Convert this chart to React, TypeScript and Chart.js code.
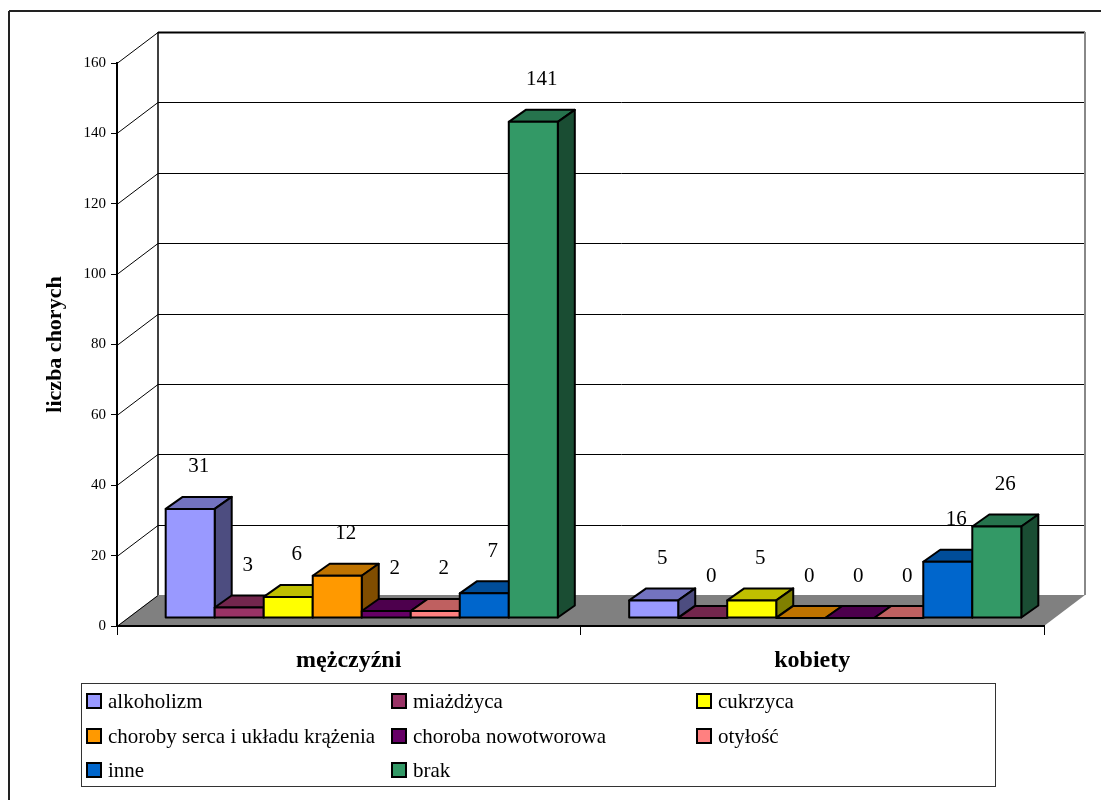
import { useEffect, useRef } from "react";
import { Chart, registerables } from "chart.js";

Chart.register(...registerables);

// ---- data ----
const groups = ["mężczyźni", "kobiety"];
const seriesNames = [
  "alkoholizm",
  "miażdżyca",
  "cukrzyca",
  "choroby serca i układu krążenia",
  "choroba nowotworowa",
  "otyłość",
  "inne",
  "brak",
];
const seriesColors = [
  "#9999FF",
  "#993366",
  "#FFFF00",
  "#FF9900",
  "#660066",
  "#FF8080",
  "#0066CC",
  "#339966",
];
const menValues = [31, 3, 6, 12, 2, 2, 7, 141];
const womenValues = [5, 0, 5, 0, 0, 0, 16, 26];
const yMin = 0;
const yMax = 160;
const yStep = 20;
const yTitle = "liczba chorych";

// ---- 3D look ----
const FONT = "'Liberation Serif', 'Times New Roman', serif";
const WALL_DX = 41; // depth of the box (back wall offset)
const WALL_DY = -31;
const ROW_DX = 13; // where the row of bars sits inside the depth
const ROW_DY = -8;
const BAR_DX = 17; // depth of a single bar
const BAR_DY = -12;

function shade(hex: string, f: number) {
  const n = parseInt(hex.slice(1), 16);
  const r = Math.round(((n >> 16) & 255) * f);
  const g = Math.round(((n >> 8) & 255) * f);
  const b = Math.round((n & 255) * f);
  return `rgb(${r},${g},${b})`;
}

function poly(ctx: CanvasRenderingContext2D, pts: number[][], fill: string) {
  ctx.beginPath();
  ctx.moveTo(pts[0][0], pts[0][1]);
  for (let i = 1; i < pts.length; i++) ctx.lineTo(pts[i][0], pts[i][1]);
  ctx.closePath();
  ctx.fillStyle = fill;
  ctx.fill();
  ctx.stroke();
}

function line(ctx: CanvasRenderingContext2D, x1: number, y1: number, x2: number, y2: number) {
  ctx.beginPath();
  ctx.moveTo(x1, y1);
  ctx.lineTo(x2, y2);
  ctx.stroke();
}

const box3d = {
  id: "box3d",
  beforeDraw(chart: any) {
    const ctx: CanvasRenderingContext2D = chart.ctx;
    const { left, right, bottom } = chart.chartArea;
    const ys = chart.scales.y;
    ctx.save();

    // outer frame
    ctx.strokeStyle = "#222";
    ctx.lineWidth = 2;
    line(ctx, 9, 11, 9, 800);
    line(ctx, 9, 11, 1101, 11);

    // floor
    ctx.beginPath();
    ctx.moveTo(left, bottom);
    ctx.lineTo(right, bottom);
    ctx.lineTo(right + WALL_DX, bottom + WALL_DY);
    ctx.lineTo(left + WALL_DX, bottom + WALL_DY);
    ctx.closePath();
    ctx.fillStyle = "#808080";
    ctx.fill();

    // grid on side and back walls
    ctx.strokeStyle = "#000";
    ctx.lineWidth = 1;
    for (const t of ys.ticks) {
      const py = Math.round(ys.getPixelForValue(t.value)) + 0.5;
      line(ctx, left, py, left + WALL_DX, py + WALL_DY);
      if (t.value > yMin) {
        ctx.lineWidth = t.value === yMax ? 2 : 1;
        line(ctx, left + WALL_DX, py + WALL_DY, right + WALL_DX, py + WALL_DY);
        ctx.lineWidth = 1;
      }
    }
    const pTop = ys.getPixelForValue(yMax);
    ctx.lineWidth = 1.5;
    line(ctx, left + WALL_DX, pTop + WALL_DY, left + WALL_DX, bottom + WALL_DY);
    ctx.strokeStyle = "#888";
    ctx.lineWidth = 2;
    line(ctx, right + WALL_DX, pTop + WALL_DY, right + WALL_DX, bottom + WALL_DY);

    // floor front edge
    ctx.strokeStyle = "#000";
    ctx.lineWidth = 2;
    line(ctx, left, bottom, right, bottom);
    ctx.restore();
  },
  afterDatasetsDraw(chart: any) {
    const ctx: CanvasRenderingContext2D = chart.ctx;
    ctx.save();
    ctx.strokeStyle = "#000";
    ctx.lineWidth = 2;
    ctx.lineJoin = "round";
    const labels: { x: number; y: number; v: number }[] = [];
    chart.data.datasets.forEach((ds: any, i: number) => {
      const meta = chart.getDatasetMeta(i);
      const base = seriesColors[i];
      meta.data.forEach((el: any, j: number) => {
        const p = el.getProps(["x", "y", "base", "width"], true);
        const L = p.x - p.width / 2 + ROW_DX;
        const R = p.x + p.width / 2 + ROW_DX;
        const T = p.y + ROW_DY;
        const B = p.base + ROW_DY;
        poly(
          ctx,
          [
            [L, T],
            [R, T],
            [R + BAR_DX, T + BAR_DY],
            [L + BAR_DX, T + BAR_DY],
          ],
          shade(base, 0.75)
        );
        if (B - T > 0.5) {
          poly(
            ctx,
            [
              [R, T],
              [R + BAR_DX, T + BAR_DY],
              [R + BAR_DX, B + BAR_DY],
              [R, B],
            ],
            shade(base, 0.5)
          );
          ctx.fillStyle = base;
          ctx.fillRect(L, T, R - L, B - T);
          ctx.strokeRect(L, T, R - L, B - T);
        }
        labels.push({ x: (L + R) / 2 + BAR_DX / 2, y: T + BAR_DY, v: ds.data[j] });
      });
    });
    ctx.fillStyle = "#000";
    ctx.font = `21px ${FONT}`;
    ctx.textAlign = "center";
    ctx.textBaseline = "middle";
    for (const l of labels) ctx.fillText(String(l.v), l.x, l.y - 30);
    ctx.restore();
  },
  afterDraw(chart: any) {
    const ctx: CanvasRenderingContext2D = chart.ctx;
    ctx.save();
    // legend box
    ctx.strokeStyle = "#333";
    ctx.lineWidth = 1;
    ctx.strokeRect(81.5, 683.5, 914, 103);
    const cols = [87, 392, 697];
    const rows = [701, 736, 770];
    ctx.font = `21px ${FONT}`;
    ctx.textBaseline = "middle";
    ctx.textAlign = "left";
    seriesNames.forEach((name, i) => {
      const x = cols[i % 3];
      const y = rows[Math.floor(i / 3)];
      ctx.fillStyle = seriesColors[i];
      ctx.fillRect(x, y - 7, 14, 14);
      ctx.strokeStyle = "#000";
      ctx.lineWidth = 2;
      ctx.strokeRect(x, y - 7, 14, 14);
      ctx.fillStyle = "#000";
      ctx.fillText(name, x + 21, y + 1);
    });
    ctx.restore();
  },
};

export default function App() {
  const ref = useRef<HTMLCanvasElement | null>(null);

  useEffect(() => {
    if (!ref.current) return;
    Chart.defaults.font.family = FONT;
    const chart = new Chart(ref.current, {
      type: "bar",
      data: {
        labels: groups,
        datasets: seriesNames.map((name, i) => ({
          label: name,
          data: [menValues[i], womenValues[i]],
          backgroundColor: "rgba(0,0,0,0)",
          borderWidth: 0,
          categoryPercentage: 0.846,
          barPercentage: 1,
        })),
      },
      options: {
        responsive: false,
        animation: false,
        devicePixelRatio: 1,
        layout: { padding: { left: 0, top: 63, right: 57, bottom: 114 } },
        plugins: {
          legend: { display: false },
          tooltip: { enabled: false },
        },
        scales: {
          x: {
            afterFit: (s: any) => {
              s.height = 60;
            },
            grid: {
              display: true,
              drawOnChartArea: false,
              drawTicks: true,
              tickLength: 9,
              color: "#000",
            },
            border: { display: true, color: "#000", width: 2 },
            ticks: {
              color: "#000",
              padding: 11,
              font: { family: FONT, size: 24, weight: "bold" },
            },
          },
          y: {
            min: yMin,
            max: yMax,
            afterFit: (s: any) => {
              s.width = 117;
            },
            grid: {
              display: true,
              drawOnChartArea: false,
              drawTicks: true,
              tickLength: 6,
              color: "#000",
            },
            border: { display: true, color: "#000", width: 2 },
            ticks: {
              stepSize: yStep,
              color: "#000",
              padding: 5,
              font: { family: FONT, size: 15 },
            },
            title: {
              display: true,
              text: yTitle,
              color: "#000",
              padding: { top: 42, bottom: 0 },
              font: { family: FONT, size: 22, weight: "bold" },
            },
          },
        },
      },
      plugins: [box3d],
    } as any);
    return () => chart.destroy();
  }, []);

  return (
    <div style={{ position: "absolute", left: 0, top: 0, width: 1101, height: 800, background: "#fff" }}>
      <canvas ref={ref} width={1101} height={800} style={{ display: "block" }} />
    </div>
  );
}
